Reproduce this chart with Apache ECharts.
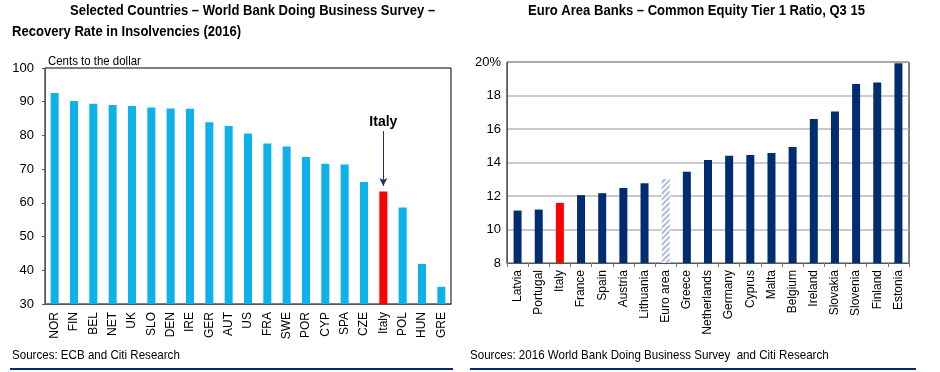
<!DOCTYPE html>
<html><head><meta charset="utf-8">
<script src="https://cdn.jsdelivr.net/npm/echarts@6/dist/echarts.min.js"></script>
<style>html,body{margin:0;padding:0;background:#fff}#c{width:940px;height:372px}</style>
</head><body><div id="c"></div>
<script>
const leftCategories = ['NOR','FIN','BEL','NET','UK','SLO','DEN','IRE','GER','AUT','US','FRA','SWE','POR','CYP','SPA','CZE','Italy','POL','HUN','GRE'];
const leftValues = [92.6,90.2,89.4,89.0,88.7,88.3,88.0,87.9,83.9,82.8,80.6,77.6,76.7,73.6,71.6,71.4,66.2,63.4,58.6,41.9,35.1];
const leftTicks = [30,40,50,60,70,80,90,100];
const rightCategories = ['Latvia','Portugal','Italy','France','Spain','Austria','Lithuania','Euro area','Greece','Netherlands','Germany','Cyprus','Malta','Belgium','Ireland','Slovakia','Slovenia','Finland','Estonia'];
const rightValues = [11.13,11.19,11.59,12.05,12.17,12.48,12.76,13.02,13.45,14.15,14.4,14.45,14.57,14.92,16.6,17.05,18.69,18.77,19.92];
const rightTicks = [8,10,12,14,16,18,20];

const FONT = "'Liberation Sans',Arial,sans-serif";
const CYAN = '#0DB2EA', RED = '#FF0000', NAVY = '#002D72';

function txt(text, x, y, size, bold, sx) {
  return {type:'text', x:x, y:y, scaleX:sx, silent:true,
    style:{text:text, fontFamily:FONT, fontSize:size, fontWeight:bold?'bold':'normal', fill:'#000', verticalAlign:'middle', align:'left'}};
}

const chart = echarts.init(document.getElementById('c'), null, {renderer:'canvas'});
chart.setOption({
  backgroundColor:'#fff',
  animation:false,
  textStyle:{fontFamily:FONT},
  graphic:[
    txt('Selected Countries – World Bank Doing Business Survey –', 70, 11, 15, true, 0.87),
    txt('Recovery Rate in Insolvencies (2016)', 12, 32, 15, true, 0.87),
    txt('Cents to the dollar', 48, 61, 13, false, 0.88),
    txt('Euro Area Banks – Common Equity Tier 1 Ratio, Q3 15', 528, 11, 15, true, 0.87),
    txt('Sources: ECB and Citi Research', 12, 355, 13, false, 0.89),
    txt('Sources: 2016 World Bank Doing Business Survey  and Citi Research', 470, 355, 13, false, 0.89),
    {type:'rect', shape:{x:10,y:368,width:443,height:2}, style:{fill:NAVY}},
    {type:'rect', shape:{x:470,y:368,width:446,height:2}, style:{fill:NAVY}}
  ],
  grid:[
    {left:45, right:489, top:68, bottom:68, show:true, borderColor:'#000', borderWidth:1},
    {left:507, right:31, top:62, bottom:109, show:true, borderColor:'#000', borderWidth:1}
  ],
  xAxis:[
    {type:'category', gridIndex:0, data:leftCategories,
     axisLine:{lineStyle:{color:'#555',width:1}}, axisTick:{show:false},
     axisLabel:{rotate:90, margin:8, fontSize:12, color:'#000', fontFamily:FONT, interval:0}},
    {type:'category', gridIndex:1, data:rightCategories,
     axisLine:{lineStyle:{color:'#555',width:1}}, axisTick:{show:true, length:4, lineStyle:{color:'#777'}},
     axisLabel:{rotate:90, margin:7, fontSize:12, color:'#000', fontFamily:FONT, interval:0}}
  ],
  yAxis:[
    {type:'value', gridIndex:0, min:leftTicks[0], max:leftTicks[leftTicks.length-1], interval:10,
     axisLine:{show:true, lineStyle:{color:'#555'}}, axisTick:{show:true, length:3, lineStyle:{color:'#555'}},
     splitLine:{show:false},
     axisLabel:{fontSize:13, color:'#000', margin:11, fontFamily:FONT}},
    {type:'value', gridIndex:1, min:rightTicks[0], max:rightTicks[rightTicks.length-1], interval:2,
     axisLine:{show:true, lineStyle:{color:'#555'}}, axisTick:{show:false},
     splitLine:{show:true, lineStyle:{color:'#B8B8B8', width:1.5}},
     axisLabel:{fontSize:13, color:'#000', margin:6, fontFamily:FONT,
       formatter:v => v === rightTicks[rightTicks.length-1] ? v + '%' : String(v)}}
  ],
  series:[
    {type:'bar', xAxisIndex:0, yAxisIndex:0, barWidth:8,
     data:leftValues.map((v,i)=>({value:v, itemStyle:{color: leftCategories[i]==='Italy'?RED:CYAN}})),
     markLine:{silent:true, symbol:['none','arrow'], symbolSize:[6,8],
       lineStyle:{color:'#1F2F6B', width:1, type:'solid'},
       label:{show:true, position:'start', formatter:'Italy', fontFamily:FONT, fontSize:14, fontWeight:'bold', color:'#000', distance:2},
       data:[[{coord:['Italy',81.3]},{coord:['Italy',65.0]}]]}
    },
    {type:'bar', xAxisIndex:1, yAxisIndex:1, barWidth:8,
     data:rightValues.map((v,i)=>{
       const c = rightCategories[i];
       if (c==='Euro area') return {value:v, itemStyle:{color:'#FFFFFF', decal:{symbol:'rect', dashArrayX:[1,0], dashArrayY:[2,2], rotation:-Math.PI/4, color:'#A9BDD6'}}};
       return {value:v, itemStyle:{color: c==='Italy'?RED:NAVY}};
     })}
  ]
});
</script></body></html>
